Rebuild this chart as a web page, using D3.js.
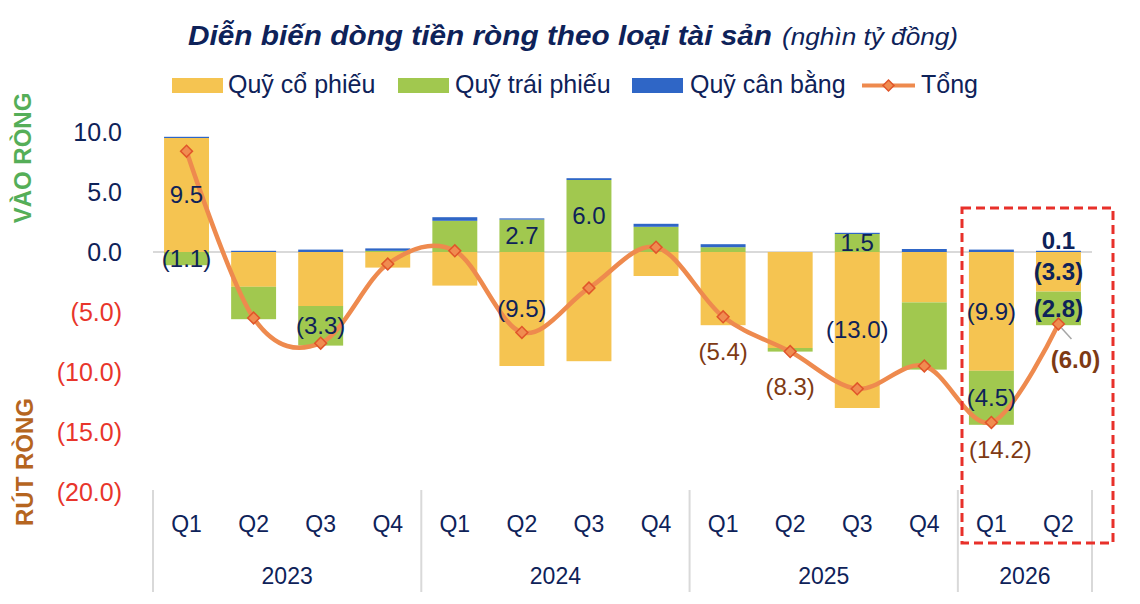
<!DOCTYPE html>
<html>
<head>
<meta charset="utf-8">
<script src="https://cdn.jsdelivr.net/npm/d3@7"></script>
<style>
  html, body { margin: 0; padding: 0; background: #fff; }
  svg { display: block; font-family: "Liberation Sans", Arial, sans-serif; }
</style>
</head>
<body>
<div id="chart"></div>
<script>
// ===== DATA =====
const quarters = ["Q1", "Q2", "Q3", "Q4", "Q1", "Q2", "Q3", "Q4", "Q1", "Q2", "Q3", "Q4", "Q1", "Q2"];
const years = ["2023", "2024", "2025", "2026"];
const yearSpans = [4, 4, 4, 2];

const equity   = [9.5, -2.9, -4.5, -1.3, -2.8, -9.5, -9.1, -2.0, -6.1, -8.0, -13.0, -4.2, -9.9, -3.3];
const bond     = [-1.1, -2.7, -3.3, 0.1, 2.6, 2.7, 6.0, 2.1, 0.4, -0.3, 1.5, -5.6, -4.5, -2.8];
const balanced = [0.1, 0.1, 0.2, 0.2, 0.3, 0.1, 0.15, 0.25, 0.25, 0.0, 0.1, 0.25, 0.2, 0.1];
const total    = [8.4, -5.5, -7.6, -1.0, 0.1, -6.7, -3.0, 0.4, -5.4, -8.3, -11.4, -9.5, -14.2, -6.0];

const yTicks = [10, 5, 0, -5, -10, -15, -20];

const seriesNames = ["Quỹ cổ phiếu", "Quỹ trái phiếu", "Quỹ cân bằng"];
const lineName = "Tổng";

// which segments carry a value label
const equityLabels = [0, 5, 10, 12, 13];
const bondLabels = [0, 2, 5, 6, 10, 12, 13];
const balancedLabels = [13];
const totalLabels = [8, 9, 12, 13];

// ===== STYLE =====
const W = 1140, H = 604;
const colors = ["#F5C451", "#A1C84F", "#2F66C6"];
const lineColor = "#EE8A4E";
const navy = "#0E2259";
const red = "#E8352B";
const brown = "#7E3A14";

const fmt = v => v < 0 ? `(${Math.abs(v).toFixed(1)})` : v.toFixed(1);

const svg = d3.select("#chart").append("svg")
  .attr("width", W).attr("height", H);

// ===== ESCALAS =====
const idx = d3.range(quarters.length);
const x = d3.scaleBand().domain(idx).range([153, 1092]).paddingInner(0.33).paddingOuter(0.165);
const y = d3.scaleLinear().domain([-20, 10]).range([492, 132]);
const cx = i => x(i) + x.bandwidth() / 2;

// ===== TÍTULO =====
svg.append("text")
  .attr("x", 188).attr("y", 45)
  .attr("fill", navy)
  .attr("font-size", 27).attr("font-weight", "bold").attr("font-style", "italic")
  .attr("textLength", 584).attr("lengthAdjust", "spacingAndGlyphs")
  .text("Diễn biến dòng tiền ròng theo loại tài sản");
svg.append("text")
  .attr("x", 782).attr("y", 45)
  .attr("fill", navy)
  .attr("font-size", 23).attr("font-style", "italic")
  .attr("textLength", 176).attr("lengthAdjust", "spacingAndGlyphs")
  .text("(nghìn tỷ đồng)");

// ===== LEYENDA =====
const legendItems = [
  { name: seriesNames[0], x: 172, color: colors[0], type: "rect", tx: 228 },
  { name: seriesNames[1], x: 398, color: colors[1], type: "rect", tx: 455 },
  { name: seriesNames[2], x: 632, color: colors[2], type: "rect", tx: 690 },
  { name: lineName, x: 862, color: lineColor, type: "line", tx: 921 }
];
const lg = svg.append("g");
legendItems.forEach(it => {
  if (it.type === "rect") {
    lg.append("rect").attr("x", it.x).attr("y", 78).attr("width", 51).attr("height", 15).attr("fill", it.color);
  } else {
    lg.append("line").attr("x1", it.x).attr("x2", it.x + 53).attr("y1", 85.5).attr("y2", 85.5)
      .attr("stroke", it.color).attr("stroke-width", 4);
    lg.append("path").attr("d", d3.symbol(d3.symbolSquare, 60)())
      .attr("transform", `translate(${it.x + 26.5},85.5) rotate(45)`)
      .attr("fill", "#F08C50").attr("stroke", "#E0552A").attr("stroke-width", 1.5);
  }
  lg.append("text").attr("x", it.tx).attr("y", 93)
    .attr("font-size", 25).attr("fill", navy)
    .text(it.name);
});

// ===== ETIQUETAS LATERALES =====
svg.append("text")
  .attr("transform", "translate(31,158) rotate(-90)")
  .attr("text-anchor", "middle").attr("font-size", 24).attr("font-weight", "bold")
  .attr("fill", "#55AE58").text("VÀO RÒNG");
svg.append("text")
  .attr("transform", "translate(33,462) rotate(-90)")
  .attr("text-anchor", "middle").attr("font-size", 24).attr("font-weight", "bold")
  .attr("fill", "#B5651F").text("RÚT RÒNG");

// ===== EJE Y =====
const yAxis = svg.append("g")
  .attr("transform", "translate(153,0)")
  .call(d3.axisLeft(y).tickValues(yTicks).tickSize(0).tickPadding(31).tickFormat(fmt));
yAxis.select(".domain").remove();
yAxis.selectAll("text")
  .attr("font-family", '"Liberation Sans", Arial, sans-serif')
  .attr("font-size", 25)
  .attr("fill", d => d < 0 ? red : navy);

// línea de cero
svg.append("line")
  .attr("x1", 153).attr("x2", 1092)
  .attr("y1", y(0)).attr("y2", y(0))
  .attr("stroke", "#D9D9D9").attr("stroke-width", 2);

// ===== BARRAS =====
const rows = idx.map(i => ({ equity: equity[i], bond: bond[i], balanced: balanced[i] }));
const keys = ["equity", "bond", "balanced"];
const stacked = d3.stack().keys(keys).offset(d3.stackOffsetDiverging)(rows);

svg.append("g").selectAll("g")
  .data(stacked)
  .join("g")
  .attr("fill", (d, k) => colors[k])
  .selectAll("rect")
  .data(d => d.map((s, i) => ({ s, i })))
  .join("rect")
  .attr("x", d => x(d.i))
  .attr("width", x.bandwidth())
  .attr("y", d => y(Math.max(d.s[0], d.s[1])))
  .attr("height", d => Math.abs(y(d.s[0]) - y(d.s[1])));

// ===== LÍNEA TOTAL =====
const line = d3.line()
  .x((d, i) => cx(i))
  .y(d => y(d))
  .curve(d3.curveCardinal.tension(0));

svg.append("path")
  .datum(total)
  .attr("d", line)
  .attr("fill", "none")
  .attr("stroke", lineColor)
  .attr("stroke-width", 4.5);

svg.append("g").selectAll("path")
  .data(total)
  .join("path")
  .attr("d", d3.symbol(d3.symbolSquare, 70)())
  .attr("transform", (d, i) => `translate(${cx(i)},${y(d)}) rotate(45)`)
  .attr("fill", "#F08C50")
  .attr("stroke", "#E0552A")
  .attr("stroke-width", 1.5);

// ===== ETIQUETAS DE DATOS =====
const labelG = svg.append("g")
  .attr("text-anchor", "middle")
  .attr("font-size", 24);

const segLabel = (k, list) => {
  list.forEach(i => {
    const s = stacked[k][i];
    const last = i === quarters.length - 1;
    let yy = (y(s[0]) + y(s[1])) / 2;
    if (keys[k] === "balanced") yy = y(s[1]) - 10;
    labelG.append("text")
      .attr("x", cx(i))
      .attr("y", yy)
      .attr("dy", "0.35em")
      .attr("fill", navy)
      .attr("font-weight", last ? "bold" : null)
      .text(fmt(rows[i][keys[k]]));
  });
};
segLabel(0, equityLabels);
segLabel(1, bondLabels);
segLabel(2, balancedLabels);

totalLabels.forEach(i => {
  const last = i === quarters.length - 1;
  const px = cx(i) + (last ? 17 : (i === 12 ? 9 : 0));
  const py = y(total[i]) + (last ? 36 : (i === 12 ? 27 : 35));
  if (last) {
    svg.append("line")
      .attr("x1", cx(i) + 3).attr("y1", y(total[i]) + 4)
      .attr("x2", cx(i) + 13).attr("y2", y(total[i]) + 15)
      .attr("stroke", "#A6A6A6").attr("stroke-width", 1.5);
  }
  labelG.append("text")
    .attr("x", px)
    .attr("y", py)
    .attr("dy", "0.35em")
    .attr("fill", brown)
    .attr("font-weight", last ? "bold" : null)
    .text(fmt(total[i]));
});

// ===== EJE X (categorías anidadas) =====
const xg = svg.append("g");
xg.selectAll("text.q")
  .data(quarters)
  .join("text")
  .attr("class", "q")
  .attr("x", (d, i) => cx(i))
  .attr("y", 532)
  .attr("text-anchor", "middle")
  .attr("font-size", 23)
  .attr("fill", navy)
  .text(d => d);

const starts = yearSpans.map((s, k) => d3.sum(yearSpans.slice(0, k)));
const step = x.step();
starts.concat([quarters.length]).forEach(s => {
  const xx = 153 + s * step;
  xg.append("line")
    .attr("x1", xx).attr("x2", xx)
    .attr("y1", 490).attr("y2", 592)
    .attr("stroke", "#D9D9D9").attr("stroke-width", 2);
});
years.forEach((yr, k) => {
  xg.append("text")
    .attr("x", 153 + (starts[k] + yearSpans[k] / 2) * step)
    .attr("y", 584)
    .attr("text-anchor", "middle")
    .attr("font-size", 23)
    .attr("fill", navy)
    .text(yr);
});

// ===== RECUADRO DESTACADO =====
svg.append("rect")
  .attr("x", 962).attr("y", 208)
  .attr("width", 151).attr("height", 335)
  .attr("fill", "none")
  .attr("stroke", "#E8302A")
  .attr("stroke-width", 3)
  .attr("stroke-dasharray", "9,5");
</script>
</body>
</html>
